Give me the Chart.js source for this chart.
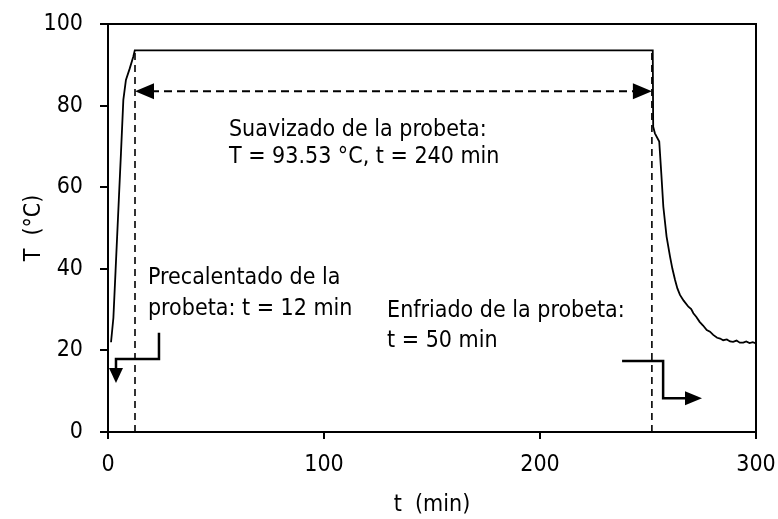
<!DOCTYPE html>
<html>
<head>
<meta charset="utf-8">
<script src="https://cdn.jsdelivr.net/npm/chart.js@4.4.1/dist/chart.umd.min.js"></script>
<style>
  html, body { margin: 0; padding: 0; background: #fff; }
  #wrap { width: 778px; height: 519px; }
</style>
</head>
<body>
<div id="wrap"><canvas id="tempChart" width="778" height="519"></canvas></div>
<script>
// time (min) and temperature (°C)
const timeMin = [1.4, 2.5, 3.5, 5, 6, 7.1, 8.3, 10, 11.7, 12.4,
  252.2, 252.4, 253.2, 255.2, 256.2, 257.1, 258.6, 260.2, 261.3, 262.5, 263.6, 264.8, 266.5, 268.7,
  270, 271, 272.4, 273.9, 275.5, 277.2, 278.7, 280.2, 282, 283.4, 284.8, 286.5, 288, 289.4, 291,
  292.5, 294.1, 295.5, 297, 298.5, 300]
const tempC = [22, 28, 39.5, 56.8, 68.3, 81.4, 86.3, 89, 92, 93.53,
  93.53, 74.8, 73.2, 71.2, 63, 55.2, 47.9, 43, 40, 37.3, 35.2, 33.6, 32.2, 30.7,
  30.1, 29.1, 28.2, 27, 26.1, 25, 24.6, 23.8, 23.1, 22.9, 22.5, 22.7, 22.2, 22.1, 22.4,
  21.9, 21.9, 22.2, 21.8, 22, 21.7]

const xTicks = [0, 100, 200, 300]
const yTicks = [0, 20, 40, 60, 80, 100]

// annotation anchors, in data units
const stageLines = [12.5, 251.8]          // dashed verticals (start / end of soaking)
const soakArrowT = 83.5                   // level of the double arrow
const heatBracket = [[23.6, 24.3], [23.6, 17.9], [3.7, 17.9], [3.7, 12]]
const coolBracket = [[238, 17.4], [257, 17.4], [257, 8.3], [275, 8.3]]
const notes = [
  { t: 56, T: 74.1, text: 'Suavizado de la probeta:' },
  { t: 56, T: 67.5, text: 'T = 93.53 °C, t = 240 min' },
  { t: 18.5, T: 37.8, text: 'Precalentado de la' },
  { t: 18.5, T: 30.2, text: 'probeta: t = 12 min' },
  { t: 129.2, T: 29.7, text: 'Enfriado de la probeta:' },
  { t: 129.2, T: 22.4, text: 't = 50 min' },
]

const FONT = "'DejaVu Sans Condensed', 'DejaVu Sans', sans-serif"

function arrowHead(ctx, x, y, dir, len, half) {
  // dir: 'left' | 'right' | 'down'
  ctx.beginPath()
  if (dir === 'left') { ctx.moveTo(x, y); ctx.lineTo(x + len, y - half); ctx.lineTo(x + len, y + half) }
  if (dir === 'right') { ctx.moveTo(x, y); ctx.lineTo(x - len, y - half); ctx.lineTo(x - len, y + half) }
  if (dir === 'down') { ctx.moveTo(x, y); ctx.lineTo(x - half, y - len); ctx.lineTo(x + half, y - len) }
  ctx.closePath()
  ctx.fill()
}

const annotations = {
  id: 'annotations',
  afterDatasetsDraw(chart) {
    const { ctx, chartArea: a, scales: { x, y } } = chart
    ctx.save()
    ctx.strokeStyle = '#000'
    ctx.fillStyle = '#000'

    // dashed stage lines
    ctx.lineWidth = 1.6
    ctx.setLineDash([7, 5])
    stageLines.forEach(t => {
      ctx.beginPath()
      ctx.moveTo(x.getPixelForValue(t), y.getPixelForValue(0))
      ctx.lineTo(x.getPixelForValue(t), y.getPixelForValue(93.53))
      ctx.stroke()
    })
    // dashed double arrow
    const ay = y.getPixelForValue(soakArrowT)
    const x1 = x.getPixelForValue(stageLines[0]), x2 = x.getPixelForValue(stageLines[1])
    ctx.lineWidth = 2
    ctx.setLineDash([8, 5])
    ctx.beginPath()
    ctx.moveTo(x1 + 16, ay)
    ctx.lineTo(x2 - 16, ay)
    ctx.stroke()
    ctx.setLineDash([])
    arrowHead(ctx, x1, ay, 'left', 19, 8)
    arrowHead(ctx, x2, ay, 'right', 19, 8)

    // bracket arrows
    ctx.lineWidth = 2.5
    ctx.lineJoin = 'miter'
    const drawBracket = (pts, dir) => {
      const px = pts.map(p => [x.getPixelForValue(p[0]), y.getPixelForValue(p[1])])
      ctx.beginPath()
      px.forEach((p, i) => {
        let [qx, qy] = p
        if (i === px.length - 1) {
          if (dir === 'down') qy -= 12
          if (dir === 'right') qx -= 14
        }
        i ? ctx.lineTo(qx, qy) : ctx.moveTo(qx, qy)
      })
      ctx.stroke()
      const last = px[px.length - 1]
      arrowHead(ctx, last[0], last[1], dir, dir === 'down' ? 15 : 17, 7)
    }
    drawBracket(heatBracket, 'down')
    drawBracket(coolBracket, 'right')

    // notes
    ctx.font = '23px ' + FONT
    ctx.textBaseline = 'middle'
    ctx.textAlign = 'left'
    notes.forEach(n => ctx.fillText(n.text, x.getPixelForValue(n.t), y.getPixelForValue(n.T)))

    // frame
    ctx.lineWidth = 2
    ctx.strokeRect(a.left, a.top, a.right - a.left, a.bottom - a.top)
    ctx.restore()
  }
}

new Chart(document.getElementById('tempChart').getContext('2d'), {
  type: 'scatter',
  data: {
    datasets: [{
      label: 'T',
      data: timeMin.map((t, i) => ({ x: t, y: tempC[i] })),
      showLine: true,
      borderColor: '#000',
      borderWidth: 1.8,
      pointRadius: 0,
      tension: 0,
    }],
  },
  options: {
    responsive: false,
    animation: false,
    layout: { padding: { top: 24, right: 22, left: 0, bottom: 0 } },
    plugins: { legend: { display: false }, tooltip: { enabled: false } },
    scales: {
      x: {
        type: 'linear',
        min: 0, max: 300,
        afterBuildTicks: s => { s.ticks = xTicks.map(v => ({ value: v })) },
        afterFit: s => { s.height = 87; s.paddingLeft = 0; s.paddingRight = 0 },
        border: { display: true, color: '#000', width: 2 },
        grid: { drawOnChartArea: false, drawTicks: true, tickLength: 7, color: '#000', lineWidth: 2 },
        ticks: { color: '#000', padding: 12, maxRotation: 0, font: { family: FONT, size: 23 } },
        title: { display: true, text: 't  (min)', color: '#000', padding: { top: 0, bottom: 0 }, font: { family: FONT, size: 23 } },
      },
      y: {
        type: 'linear',
        min: 0, max: 100,
        afterBuildTicks: s => { s.ticks = yTicks.map(v => ({ value: v })) },
        afterFit: s => { s.width = 108; s.paddingTop = 0; s.paddingBottom = 0 },
        border: { display: true, color: '#000', width: 2 },
        grid: { drawOnChartArea: false, drawTicks: true, tickLength: 8, color: '#000', lineWidth: 2 },
        ticks: { color: '#000', padding: 17, font: { family: FONT, size: 23 } },
        title: { display: true, text: 'T  (°C)', color: '#000', padding: { top: 20, bottom: 0 }, font: { family: FONT, size: 23 } },
      },
    },
  },
  plugins: [annotations],
})
</script>
</body>
</html>
